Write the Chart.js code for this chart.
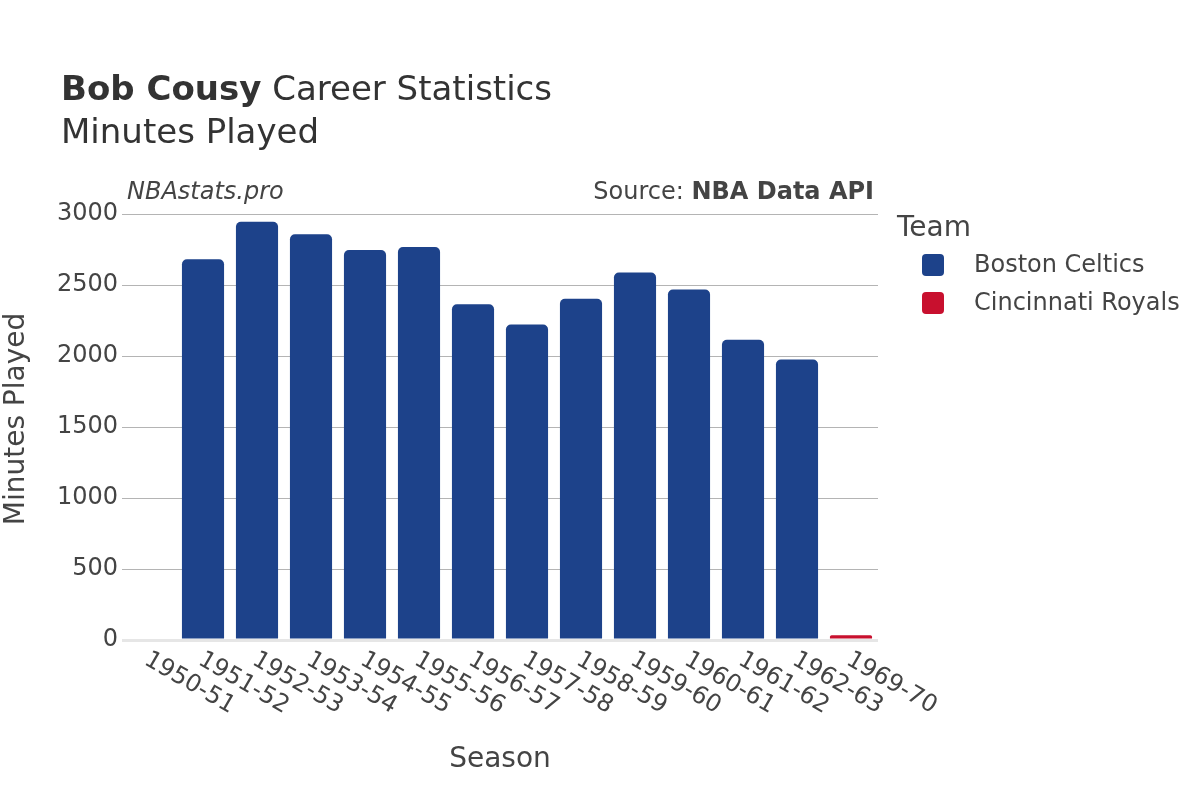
<!DOCTYPE html>
<html>
<head>
<meta charset="utf-8">
<script src="https://cdn.jsdelivr.net/npm/chart.js@4"></script>
<style>
  html, body { margin: 0; padding: 0; background: #fff; }
  #wrap { width: 1200px; height: 800px; }
</style>
</head>
<body>
<div id="wrap"><canvas id="chart" width="1200" height="800"></canvas></div>
<script>
const seasons = ["1950-51", "1951-52", "1952-53", "1953-54", "1954-55", "1955-56", "1956-57",
  "1957-58", "1958-59", "1959-60", "1960-61", "1961-62", "1962-63", "1969-70"];
const celticsMinutes = [null, 2681, 2945, 2857, 2747, 2767, 2364, 2222, 2403, 2588, 2468, 2114, 1975, null];
const royalsMinutes = [null, null, null, null, null, null, null, null, null, null, null, null, null, 34];
const yTicks = [0, 500, 1000, 1500, 2000, 2500, 3000];

const FONT = "'DejaVu Sans', sans-serif";
const TXT = "#444";

// titles, x labels, legend
const decoPlugin = {
  id: "deco",
  afterDraw(chart) {
    const ctx = chart.ctx;
    const xs = chart.scales.x;
    const area = chart.chartArea;
    ctx.save();
    ctx.fillStyle = "#333";
    ctx.textBaseline = "alphabetic";
    ctx.textAlign = "left";
    ctx.font = "bold 34px " + FONT;
    ctx.fillText("Bob Cousy", 61, 100);
    const w = ctx.measureText("Bob Cousy").width;
    ctx.font = "34px " + FONT;
    ctx.fillText(" Career Statistics", 61 + w, 100);
    ctx.fillText("Minutes Played", 61, 143);

    ctx.fillStyle = TXT;
    ctx.font = "italic 24px " + FONT;
    ctx.fillText("NBAstats.pro", 127, 199);

    ctx.textAlign = "right";
    ctx.font = "bold 24px " + FONT;
    const src = "NBA Data API";
    ctx.fillText(src, 874, 199);
    const sw = ctx.measureText(src).width;
    ctx.font = "24px " + FONT;
    ctx.fillText("Source: ", 874 - sw, 199);

    // x tick labels, rotated
    ctx.font = "24px " + FONT;
    ctx.textAlign = "left";
    ctx.textBaseline = "middle";
    seasons.forEach((s, i) => {
      const px = xs.getPixelForValue(i);
      ctx.save();
      ctx.translate(px - 3, area.bottom + 18);
      ctx.rotate(Math.PI / 6);
      ctx.fillText(s, 0, 0);
      ctx.restore();
    });

    // axis titles
    ctx.font = "28px " + FONT;
    ctx.textAlign = "center";
    ctx.textBaseline = "middle";
    ctx.fillText("Season", (area.left + area.right) / 2, 760);
    ctx.save();
    ctx.translate(17, (area.top + area.bottom) / 2 - 8);
    ctx.rotate(-Math.PI / 2);
    ctx.fillText("Minutes Played", 0, 0);
    ctx.restore();

    // legend
    ctx.textAlign = "left";
    ctx.textBaseline = "alphabetic";
    ctx.font = "28px " + FONT;
    ctx.fillText("Team", 897, 236);
    ctx.font = "24px " + FONT;
    ctx.textBaseline = "middle";
    chart.data.datasets.forEach((ds, i) => {
      const cy = 265 + i * 38;
      ctx.fillStyle = ds.backgroundColor;
      ctx.beginPath();
      ctx.roundRect(922, cy - 11, 22, 22, 4);
      ctx.fill();
      ctx.fillStyle = TXT;
      ctx.fillText(ds.label, 974, cy + 1);
    });
    ctx.restore();
  }
};

new Chart(document.getElementById("chart").getContext("2d"), {
  type: "bar",
  data: {
    labels: seasons,
    datasets: [
      {
        label: "Boston Celtics",
        data: celticsMinutes,
        backgroundColor: "#1d428a",
        borderRadius: { topLeft: 5, topRight: 5 },
        borderSkipped: "bottom",
        barPercentage: 0.78,
        categoryPercentage: 1.0
      },
      {
        label: "Cincinnati Royals",
        data: royalsMinutes,
        backgroundColor: "#c8102e",
        borderRadius: { topLeft: 5, topRight: 5 },
        borderSkipped: "bottom",
        barPercentage: 0.78,
        categoryPercentage: 1.0
      }
    ]
  },
  options: {
    responsive: false,
    animation: false,
    devicePixelRatio: 1,
    layout: { padding: { left: 0, top: 214, right: 322, bottom: 0 } },
    plugins: {
      legend: { display: false },
      title: { display: false },
      tooltip: { enabled: false }
    },
    scales: {
      x: {
        type: "category",
        stacked: true,
        grid: { display: false },
        border: { display: false },
        ticks: { display: false },
        afterFit: (s) => { s.height = 160; }
      },
      y: {
        stacked: true,
        min: 0,
        max: 3000,
        afterBuildTicks: (s) => { s.ticks = yTicks.map(v => ({ value: v })); },
        afterFit: (s) => { s.width = 122; },
        border: { display: false },
        grid: {
          drawTicks: false,
          color: (c) => c.tick && c.tick.value === 0 ? "#e6e6e6" : "#b4b4b4",
          lineWidth: (c) => c.tick && c.tick.value === 0 ? 3 : 1
        },
        ticks: {
          padding: 4,
          color: TXT,
          font: { family: FONT, size: 24 },
          callback: (v) => String(v)
        }
      }
    }
  },
  plugins: [decoPlugin]
});
</script>
</body>
</html>
